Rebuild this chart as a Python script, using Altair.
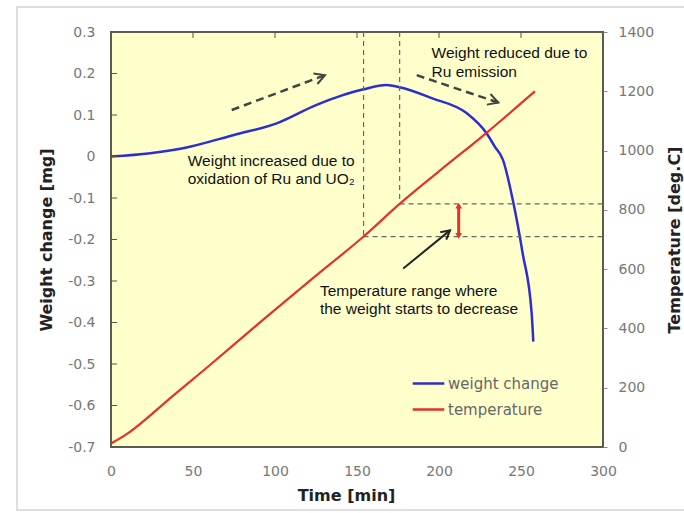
import math
import altair as alt
import pandas as pd

# ---------------- data ----------------
time_w = [0, 24, 44, 75, 101, 125, 140, 154, 168, 176, 196, 217, 229, 234, 239, 245, 251, 256.5, 257.5]
weight = [0.0, 0.008, 0.02, 0.052, 0.08, 0.124, 0.146, 0.162, 0.172, 0.167, 0.14, 0.104, 0.056, 0.024,
          -0.008, -0.105, -0.233, -0.378, -0.446]

time_t = [0, 10, 20, 34, 60, 95, 125, 154, 176, 200, 229, 258.5]
temp = [12, 45, 88, 155, 275, 440, 578, 710, 820, 930, 1060, 1200]

series_names = ["weight change", "temperature"]

x_ticks = [0, 50, 100, 150, 200, 250, 300]
w_ticks = [-0.7, -0.6, -0.5, -0.4, -0.3, -0.2, -0.1, 0, 0.1, 0.2, 0.3]
t_ticks = [0, 200, 400, 600, 800, 1000, 1200, 1400]

guide_time = [154, 176]
guide_temp = [710, 820]

# annotation arrows (time, weight) start -> end
arrow_x0 = [73.6, 186.4, 178.2]
arrow_y0 = [0.112, 0.196, -0.270]
arrow_x1 = [130.5, 236.2, 206.7]
arrow_y1 = [0.196, 0.130, -0.178]
arrow_kind = ["dashed", "dashed", "solid"]

range_time = [212]
range_lo = [712]
range_hi = [814]

text_time = [195.5, 195.5, 46.8, 46.8, 127.4, 127.4]
text_w = [0.249, 0.204, -0.010, -0.055, -0.323, -0.368]
text_lines = ["Weight reduced due to", "Ru emission",
              "Weight increased due to", "oxidation of Ru and UO\u2082",
              "Temperature range where", "the weight starts to decrease"]

# ---------------- styling ----------------
W, H = 492, 415
BLUE = "#2E2ECC"
RED = "#E5312B"
AX_FONT = "DejaVu Sans"
TXT_FONT = "Liberation Sans"

X_SCALE = alt.Scale(domain=[0, 300], nice=False, zero=False)
W_SCALE = alt.Scale(domain=[-0.7, 0.3], nice=False, zero=False)
T_SCALE = alt.Scale(domain=[0, 1400], nice=False, zero=False)
C_SCALE = alt.Scale(domain=series_names, range=[BLUE, RED])

df_w = pd.DataFrame({"time": time_w, "value": weight, "series": series_names[0]})
df_t = pd.DataFrame({"time": time_t, "value": temp, "series": series_names[1]})

x_axis = alt.Axis(
    values=x_ticks, title="Time [min]", grid=False, domain=False, tickSize=0, labelFlush=False,
    labelFont=AX_FONT, labelFontSize=14, labelColor="#777", labelPadding=17,
    titleFont=AX_FONT, titleFontSize=16, titleFontWeight="bold", titleColor="#222",
    titleX=235, titleY=48, titleAlign="center", titleBaseline="middle",
)
w_axis = alt.Axis(
    values=w_ticks, title="Weight change [mg]", grid=False, domain=False, tickSize=0, labelFlush=False,
    labelExpr="datum.value == 0 ? '0' : (datum.value < 0 ? '-' + format(-datum.value, '.1f') : format(datum.value, '.1f'))",
    labelFont=AX_FONT, labelFontSize=14, labelColor="#777", labelPadding=16,
    titleFont=AX_FONT, titleFontSize=16, titleFontWeight="bold", titleColor="#222",
    titleX=-65, titleY=H / 2, titleAngle=270, titleAlign="center", titleBaseline="middle",
)
t_axis = alt.Axis(
    values=t_ticks, orient="right", title="Temperature [deg.C]", grid=False, domain=False,
    tickSize=4, tickColor="#888", format="d", labelFlush=False,
    labelFont=AX_FONT, labelFontSize=14, labelColor="#777", labelPadding=11,
    titleFont=AX_FONT, titleFontSize=16, titleFontWeight="bold", titleColor="#222",
    titleX=71, titleY=H / 2, titleAngle=270, titleAlign="center", titleBaseline="middle",
)
legend = alt.Legend(
    title=None, orient="none", legendX=300, legendY=334,
    symbolType="stroke", symbolSize=1000, symbolStrokeWidth=2.5,
    labelFont=AX_FONT, labelFontSize=15, labelColor="#666",
    labelOffset=2, rowPadding=0, padding=0,
)


# every layer with an x field carries the same x axis definition, so they merge into one
def xq(field):
    return alt.X(field, type="quantitative", scale=X_SCALE, axis=x_axis)


def yw(field):
    return alt.Y(field, type="quantitative", scale=W_SCALE, axis=None)


def yt(field):
    return alt.Y(field, type="quantitative", scale=T_SCALE, axis=None)


# ---------------- marks on the weight scale ----------------
blue_line = alt.Chart(df_w).mark_line(strokeWidth=2.5, interpolate="monotone").encode(
    x=xq("time"),
    y=alt.Y("value:Q", scale=W_SCALE, axis=w_axis),
    color=alt.Color("series:N", scale=C_SCALE, legend=legend),
)

left_ticks = alt.Chart(pd.DataFrame({"v": w_ticks[1:-1]})).mark_rule(color="#555", strokeWidth=1).encode(
    y=yw("v"), x=alt.value(0), x2=alt.value(6)
)
top_ticks = alt.Chart(pd.DataFrame({"t": x_ticks[1:-1]})).mark_rule(color="#555", strokeWidth=1).encode(
    x=xq("t"), y=alt.value(0), y2=alt.value(6)
)

px_x = W / 300.0
px_y = H / 1.0
angles = [
    (math.degrees(math.atan2(-(y1 - y0) * px_y, (x1 - x0) * px_x)) + 360) % 360
    for x0, y0, x1, y1 in zip(arrow_x0, arrow_y0, arrow_x1, arrow_y1)
]
df_arr = pd.DataFrame({"x0": arrow_x0, "y0": arrow_y0, "x1": arrow_x1, "y1": arrow_y1,
                       "kind": arrow_kind, "angle": angles})
df_dash = df_arr[df_arr.kind == "dashed"]
df_solid = df_arr[df_arr.kind == "solid"]

dashed_shaft = alt.Chart(df_dash).mark_rule(color="#444", strokeWidth=2.5, strokeDash=[8, 5]).encode(
    x=xq("x0"), y=yw("y0"), x2="x1:Q", y2="y1:Q",
)
solid_shaft = alt.Chart(df_solid).mark_rule(color="#222", strokeWidth=2).encode(
    x=xq("x0"), y=yw("y0"), x2="x1:Q", y2="y1:Q",
)
HEAD = "M -1 -0.55 L 0 0 L -1 0.55"
dashed_heads = alt.Chart(df_dash).mark_point(
    shape=HEAD, filled=False, strokeWidth=2, size=420, opacity=1, color="#444"
).encode(x=xq("x1"), y=yw("y1"), angle=alt.Angle("angle:Q", scale=None))
solid_heads = alt.Chart(df_solid).mark_point(
    shape=HEAD, filled=False, strokeWidth=2, size=300, opacity=1, color="#222"
).encode(x=xq("x1"), y=yw("y1"), angle=alt.Angle("angle:Q", scale=None))

texts = alt.Chart(pd.DataFrame({"t": text_time, "w": text_w, "label": text_lines})).mark_text(
    align="left", baseline="middle", font=TXT_FONT, fontSize=15.5, color="#111"
).encode(x=xq("t"), y=yw("w"), text="label:N")

frame = alt.Chart(alt.Data(values=[{}])).mark_rect(
    fill="transparent", stroke="#d4d4d4", strokeWidth=1.5
).encode(
    x=alt.value(-94), x2=alt.value(590), y=alt.value(-25), y2=alt.value(478)
)

# ---------------- marks on the temperature scale ----------------
df_vg = pd.DataFrame({"time": guide_time, "top": [1400, 1400], "bot": guide_temp})
df_hg = pd.DataFrame({"temp": guide_temp, "start": guide_time, "end": [300, 300]})

vguides = alt.Chart(df_vg).mark_rule(color="#666", strokeWidth=1.2, strokeDash=[5, 4]).encode(
    x=xq("time"), y=yt("top"), y2="bot:Q",
)
hguides = alt.Chart(df_hg).mark_rule(color="#666", strokeWidth=1.2, strokeDash=[5, 4]).encode(
    y=yt("temp"), x=xq("start"), x2="end:Q",
)

red_line = alt.Chart(df_t).mark_line(strokeWidth=2.2, interpolate="monotone").encode(
    x=xq("time"),
    y=alt.Y("value:Q", scale=T_SCALE, axis=t_axis),
    color=alt.Color("series:N", scale=C_SCALE, legend=None),
)

df_rng = pd.DataFrame({"time": range_time, "lo": range_lo, "hi": range_hi})
range_rule = alt.Chart(df_rng).mark_rule(color=RED, strokeWidth=3).encode(
    x=xq("time"), y=yt("lo"), y2="hi:Q",
)
range_top = alt.Chart(df_rng).mark_point(shape="triangle-up", filled=True, color=RED, size=45, opacity=1).encode(
    x=xq("time"), y=yt("hi")
)
range_bot = alt.Chart(df_rng).mark_point(shape="triangle-down", filled=True, color=RED, size=45, opacity=1).encode(
    x=xq("time"), y=yt("lo")
)

# blue_line comes first so that its legend definition is the one kept
chart = (
    alt.layer(
        blue_line, frame, left_ticks, top_ticks, vguides, hguides,
        red_line,
        dashed_shaft, solid_shaft, dashed_heads, solid_heads,
        range_rule, range_top, range_bot, texts,
    )
    .resolve_scale(y="independent")
    .properties(
        width=W, height=H,
        autosize=alt.AutoSizeParams(type="none"),
        padding={"left": 111, "top": 32, "right": 81, "bottom": 66},
        background="white",
    )
    .configure_view(fill="#FFFFCC", stroke="#5c5c4c", strokeWidth=2)
)

chart.save("out.html", embed_options={"renderer": "svg", "actions": False})
